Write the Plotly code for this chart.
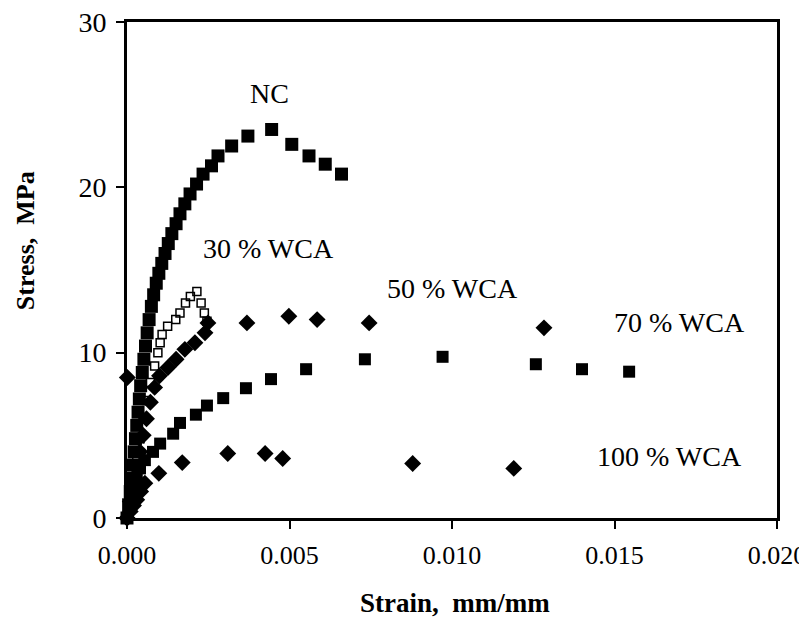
import plotly.graph_objects as go

# NC (filled squares)
nc_strain = [0.00000, 0.00005, 0.00010, 0.00014, 0.00018, 0.00022, 0.00026, 0.00030,
             0.00034, 0.00038, 0.00042, 0.00047, 0.00052, 0.00057, 0.00062, 0.00068,
             0.00075, 0.00082, 0.00090, 0.00098, 0.00107, 0.00117, 0.00127, 0.00138,
             0.00151, 0.00163, 0.00178, 0.00194, 0.00214, 0.00234, 0.00260, 0.00280,
             0.00322, 0.00372, 0.00445, 0.00507, 0.00560, 0.00610, 0.00660]
nc_stress = [0.0, 0.8, 1.6, 2.4, 3.2, 4.0, 4.8, 5.6,
             6.4, 7.2, 8.0, 8.8, 9.6, 10.4, 11.2, 12.0,
             12.8, 13.5, 14.2, 14.8, 15.4, 16.0, 16.6, 17.2,
             17.8, 18.4, 19.0, 19.6, 20.2, 20.8, 21.3, 21.9,
             22.5, 23.1, 23.5, 22.6, 21.9, 21.4, 20.8]

# 30 % WCA (open squares)
w30_strain = [0.00000, 0.00010, 0.00020, 0.00030, 0.00040, 0.00050, 0.00060, 0.00072,
              0.00085, 0.00095, 0.00102, 0.00108, 0.00125, 0.00150, 0.00163, 0.00180,
              0.00195, 0.00215, 0.00228, 0.00238, 0.00246]
w30_stress = [0.0, 1.2, 2.4, 3.6, 4.8, 6.0, 7.1, 8.2,
              9.2, 10.0, 10.6, 11.1, 11.6, 12.0, 12.4, 13.0,
              13.4, 13.7, 13.0, 12.4, 11.9]

# 50 % WCA (filled diamonds)
w50_strain = [0.00000, 0.00010, 0.00020, 0.00030, 0.00040, 0.00050, 0.00060, 0.00072,
              0.00085, 0.00100, 0.00126, 0.00151, 0.00178, 0.00209, 0.00240, 0.00249,
              0.00369, 0.00498, 0.00585, 0.00745, 0.01283, 0.00001]
w50_stress = [0.0, 1.0, 2.0, 3.0, 4.0, 5.0, 6.0, 7.0,
              7.9, 8.6, 9.1, 9.6, 10.2, 10.6, 11.2, 11.8,
              11.8, 12.2, 12.0, 11.8, 11.5, 8.5]

# 70 % WCA (filled squares)
w70_strain = [0.00000, 0.00010, 0.00020, 0.00030, 0.00040, 0.00055, 0.00080, 0.00102,
              0.00142, 0.00163, 0.00212, 0.00246, 0.00296, 0.00366, 0.00443, 0.00551,
              0.00732, 0.00971, 0.01258, 0.01400, 0.01545]
w70_stress = [0.0, 0.9, 1.7, 2.4, 3.0, 3.5, 4.0, 4.5,
              5.1, 5.75, 6.25, 6.8, 7.25, 7.85, 8.4, 9.0,
              9.6, 9.75, 9.3, 9.0, 8.85]

# 100 % WCA (filled diamonds)
w100_strain = [0.00000, 0.00010, 0.00020, 0.00030, 0.00042, 0.00055, 0.00098, 0.00170,
               0.00310, 0.00425, 0.00479, 0.00879, 0.01190]
w100_stress = [0.0, 0.4, 0.75, 1.1, 1.6, 2.1, 2.7, 3.35,
               3.9, 3.9, 3.6, 3.3, 3.0]

labels = ["NC", "30 % WCA", "50 % WCA", "70 % WCA", "100 % WCA"]
label_x = [0.00437, 0.00434, 0.0100, 0.01700, 0.01668]
label_y = [25.7, 16.3, 13.9, 11.85, 3.7]

FONT = "Liberation Serif"

fig = go.Figure()

def add(x, y, symbol, size, open_=False):
    if open_:
        marker = dict(symbol=symbol, size=size, color="black", line=dict(color="black", width=1.5))
    else:
        marker = dict(symbol=symbol, size=size, color="black", line=dict(width=0))
    fig.add_trace(go.Scatter(x=x, y=y, mode="markers", marker=marker,
                             cliponaxis=False, showlegend=False))

add(nc_strain, nc_stress, "square", 13)
add(w70_strain, w70_stress, "square", 12)
add(w50_strain, w50_stress, "diamond", 13)
add(w100_strain, w100_stress, "diamond", 13)
add(w30_strain, w30_stress, "square-open", 8, open_=True)

for t, x, y in zip(labels, label_x, label_y):
    fig.add_annotation(x=x, y=y, text=t, showarrow=False,
                       font=dict(family=FONT, size=28, color="black"))

fig.add_annotation(xref="paper", yref="paper", x=-0.157, y=0.56,
                   xanchor="center", yanchor="middle",
                   text="<b>Stress,  MPa</b>", textangle=-90, showarrow=False,
                   font=dict(family=FONT, size=26, color="black"))

fig.add_annotation(xref="paper", yref="paper", x=0.505, y=-0.172,
                   xanchor="center", yanchor="middle",
                   text="<b>Strain,  mm/mm</b>", showarrow=False,
                   font=dict(family=FONT, size=27, color="black"))

fig.update_layout(
    width=799, height=614,
    margin=dict(l=119, r=30, t=14, b=104, autoexpand=False),
    paper_bgcolor="white", plot_bgcolor="white",
    font=dict(family=FONT, size=26, color="black"),
    xaxis=dict(range=[0, 0.02], tickvals=[0, 0.005, 0.01, 0.015, 0.02],
               ticktext=["0.000", "0.005", "0.010", "0.015", "0.020"],
               automargin=False, ticklabelstandoff=4, ticklabeloverflow="allow",
               showgrid=False, zeroline=False, showline=True, linecolor="black",
               linewidth=3, mirror=True, ticks="outside", ticklen=8, tickwidth=2,
               tickcolor="black", tickfont=dict(family=FONT, size=26)),
    yaxis=dict(range=[0, 30], tickvals=[0, 10, 20, 30],
               automargin=False, ticklabelstandoff=4, ticklabeloverflow="allow",
               showgrid=False, zeroline=False, showline=True, linecolor="black",
               linewidth=3, mirror=True, ticks="outside", ticklen=8, tickwidth=2,
               tickcolor="black", tickfont=dict(family=FONT, size=28)),
)

fig.write_html("out.html")
